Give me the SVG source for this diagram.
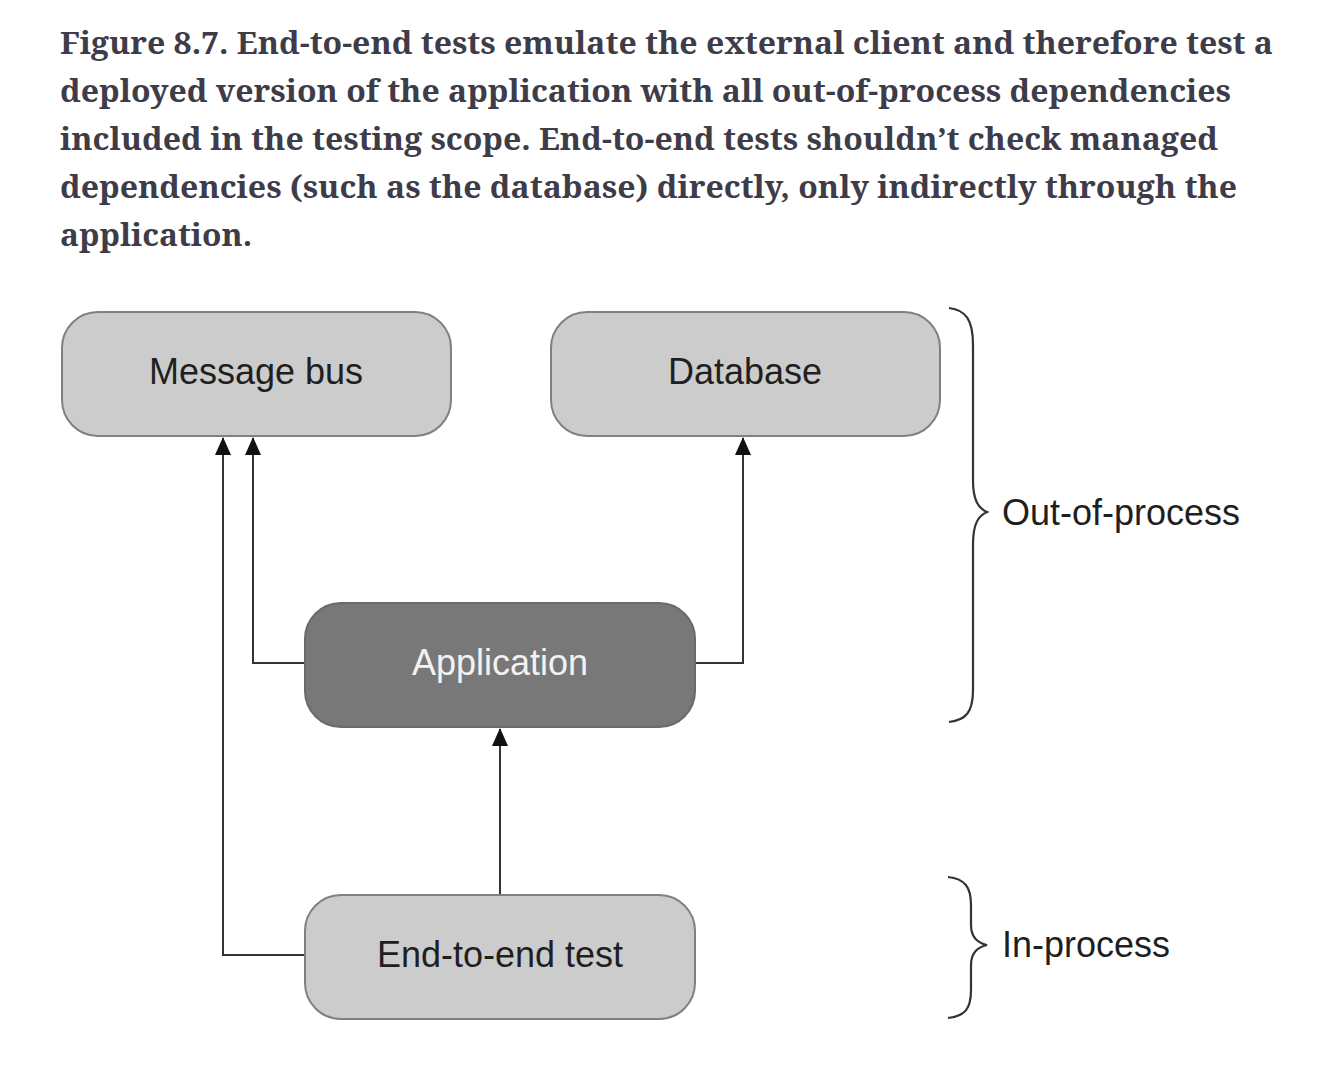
<svg xmlns="http://www.w3.org/2000/svg" width="1322" height="1084" viewBox="0 0 1322 1084">
<style>
.cap{font-family:"Noto Serif","DejaVu Serif","Liberation Serif",serif;font-weight:bold;font-size:30px;fill:#3d3c48}
.box{fill:#cccccc;stroke:#808080;stroke-width:2}
.dark{fill:#787878;stroke:#6a6a6a;stroke-width:2}
.lbl{font-family:"Liberation Sans",Arial,sans-serif;font-size:36px;fill:#1f1f1f;text-anchor:middle}
.wl{fill:#f2f2f2}
.side{font-family:"Liberation Sans",Arial,sans-serif;font-size:36px;fill:#1f1f1f}
.ln{fill:none;stroke:#333;stroke-width:2}
.br{fill:none;stroke:#333;stroke-width:2.2}
</style>
<defs>
<marker id="ah" markerWidth="18" markerHeight="16" refX="17" refY="8" orient="auto" markerUnits="userSpaceOnUse" viewBox="0 0 18 16">
<path d="M0 0 L18 8 L0 16 Z" fill="#111"/>
</marker>
</defs>
<rect width="1322" height="1084" fill="#ffffff"/>
<g id="caption">
<text class="cap" x="60" y="54" textLength="1213" lengthAdjust="spacingAndGlyphs">Figure 8.7. End-to-end tests emulate the external client and therefore test a</text>
<text class="cap" x="60" y="102" textLength="1171" lengthAdjust="spacingAndGlyphs">deployed version of the application with all out-of-process dependencies</text>
<text class="cap" x="60" y="150" textLength="1158" lengthAdjust="spacingAndGlyphs">included in the testing scope. End-to-end tests shouldn’t check managed</text>
<text class="cap" x="60" y="198" textLength="1177" lengthAdjust="spacingAndGlyphs">dependencies (such as the database) directly, only indirectly through the</text>
<text class="cap" x="60" y="246" textLength="192" lengthAdjust="spacingAndGlyphs">application.</text>
</g>
<g id="connectors">
<path class="ln" d="M305 955 H223 V438" marker-end="url(#ah)"/>
<path class="ln" d="M305 663 H253 V438" marker-end="url(#ah)"/>
<path class="ln" d="M695 663 H743 V438" marker-end="url(#ah)"/>
<path class="ln" d="M500 895 V729" marker-end="url(#ah)"/>
</g>
<g id="message-bus">
<rect class="box" x="62" y="312" width="389" height="124" rx="36"/>
<text class="lbl" x="256" y="384">Message bus</text>
</g>
<g id="database">
<rect class="box" x="551" y="312" width="389" height="124" rx="36"/>
<text class="lbl" x="745" y="384">Database</text>
</g>
<g id="application">
<rect class="dark" x="305" y="603" width="390" height="124" rx="36"/>
<text class="lbl wl" x="500" y="675">Application</text>
</g>
<g id="end-to-end-test">
<rect class="box" x="305" y="895" width="390" height="124" rx="36"/>
<text class="lbl" x="500" y="967">End-to-end test</text>
</g>
<g id="out-of-process">
<path class="br" d="M949 308 C966 310 973 320 973 345 V480 C973 500 978 508 987 512 C978 516 973 524 973 545 V690 C973 712 966 720 949 722"/>
<text class="side" x="1002" y="525">Out-of-process</text>
</g>
<g id="in-process">
<path class="br" d="M948 877 C965 879 971 887 971 905 V925 C971 938 978 943 987 945 C978 947 971 952 971 965 V990 C971 1009 965 1016 948 1018"/>
<text class="side" x="1002" y="957">In-process</text>
</g>
</svg>
